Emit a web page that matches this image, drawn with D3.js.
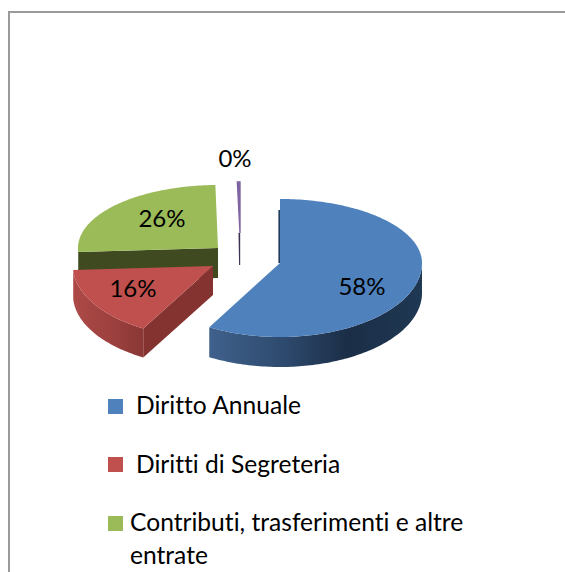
<!DOCTYPE html>
<html><head><meta charset="utf-8">
<script src="https://cdn.jsdelivr.net/npm/d3@7"></script>
<style>html,body{margin:0;padding:0;background:#fff}svg{display:block}text{font-family:Lato,"Open Sans",sans-serif;fill:#000;font-variant-ligatures:none}</style>
</head><body><svg id="c" width="565" height="572"></svg>
<script>
const categories = ["Diritto Annuale","Diritti di Segreteria","Contributi, trasferimenti e altre entrate","Altro"];
const shares = [58.3,15.8,25.6,0.3];
const topColors = ["#4f81bd","#c0504d","#9bbb59","#8064a2"];
const svg = d3.select("#c");
const W=565,H=572;
// frame
svg.append("path").attr("d",`M9,${H}V12H${W}`).attr("fill","none").attr("stroke","#9a9a9a").attr("stroke-width",2);

// layout per slice: exploded centre and perspective radii
const layout = [
 {cx:280,cy:263,rx:142,ryB:64,ryF:74,depth:30},
 {cx:213,cy:266,rx:140,ryB:64,ryF:72,depth:29},
 {cx:218,cy:248,rx:140,ryB:63,ryF:72,depth:30},
 {cx:240,cy:233,rx:140,ryB:51,ryF:60,depth:32}
];
const arcs = d3.pie().sort(null).value(d=>d).startAngle(0).endAngle(2*Math.PI)(shares);
const color = d3.scaleOrdinal().domain(categories).range(topColors);
const line = d3.line();
function pt(l,a,r=1){const c=Math.cos(a);return [l.cx+r*l.rx*Math.sin(a), l.cy-r*(c>0?l.ryB:l.ryF)*c];}
function arcPts(l,a0,a1,dy=0){const n=Math.max(2,Math.ceil(Math.abs(a1-a0)/0.02));
  return d3.range(n+1).map(i=>{const p=pt(l,a0+(a1-a0)*i/n);return [p[0],p[1]+dy];});}

const defs=svg.append("defs");
function grad(id,stops,x1,x2){const g=defs.append("linearGradient").attr("id",id).attr("gradientUnits","userSpaceOnUse").attr("x1",x1).attr("x2",x2).attr("y1",0).attr("y2",0);
  stops.forEach(s=>g.append("stop").attr("offset",s[0]).attr("stop-color",s[1]));return `url(#${id})`;}
const blueWall=grad("bw",[[0,"#3f618c"],[.35,"#2e4a6e"],[.65,"#1b2e47"],[1,"#1f3853"]],209,422);
const redWall=grad("rw",[[0,"#ad4a47"],[.6,"#9c403e"],[1,"#8b3836"]],73,140);

const g=svg.append("g");
// draw back to front: purple, green, red, blue
[3,2,1,0].forEach(i=>{
  const l=layout[i],a=arcs[i],a0=a.startAngle,a1=a.endAngle,gs=g.append("g").attr("class","slice");
  const c=[l.cx,l.cy],e0=pt(l,a0),e1=pt(l,a1);
  if(i===0){
    // outer wall, visible on the front half of the rim
    const from=Math.PI/2-0.02,top=arcPts(l,from,a1),bot=arcPts(l,a1,from,l.depth);
    gs.append("path").attr("d",line(top.concat(bot))+"Z").attr("fill",blueWall);
    // thin dark start wall
    gs.append("path").attr("d",line([[c[0],c[1]],[c[0]-1.6,c[1]],[c[0]-1.6,e0[1]+11],[c[0],e0[1]+11]])+"Z").attr("fill","#1f3b5c");
  }
  if(i===1){
    const top=arcPts(l,a1,a0),bot=arcPts(l,a0,a1,l.depth);
    gs.append("path").attr("d",line(top.concat(bot))+"Z").attr("fill",redWall);
    gs.append("path").attr("d",line([c,e0,[e0[0],e0[1]+l.depth],[c[0],c[1]+l.depth]])+"Z").attr("fill","#853331");
  }
  if(i===2){
    gs.append("path").attr("d",line([c,e0,[e0[0],e0[1]+l.depth],[c[0],c[1]+l.depth]])+"Z").attr("fill","#3f4a20");
  }
  if(i===3){
    gs.append("path").attr("d",line([[c[0]-1.5,c[1]],[c[0]+.2,c[1]],[c[0]+.2,c[1]+l.depth],[c[0]-.9,c[1]+l.depth]])+"Z").attr("fill","#3c3150");
  }
  gs.append("path").attr("d",line([c].concat(arcPts(l,a0,a1)))+"Z").attr("fill",color(categories[i]))
    .attr("stroke",i===3?color(categories[i]):"none").attr("stroke-width",1.4);
});

// value labels
const labelPos=[[362,287],[133,289],[162,219],[235,159]];
const fmt=d=>Math.round(d)+"%";
g.selectAll("text.v").data(shares).join("text").attr("class","v")
 .attr("x",(d,i)=>labelPos[i][0]).attr("y",(d,i)=>labelPos[i][1]+8)
 .attr("text-anchor","middle").attr("font-size",24).text(fmt);

// legend
const legendRows=[
 {sw:399,x:136,lines:[["Diritto Annuale",414]]},
 {sw:457,x:136,lines:[["Diritti di Segreteria",473]]},
 {sw:516,x:130,lines:[["Contributi, trasferimenti e altre",531],["entrate",564]]}
];
const lg=svg.append("g");
legendRows.forEach((r,i)=>{
  lg.append("rect").attr("x",108).attr("y",r.sw).attr("width",15).attr("height",15).attr("fill",topColors[i]);
  r.lines.forEach(t=>lg.append("text").attr("x",r.x).attr("y",t[1]).attr("font-size",24.6).text(t[0]));
});
</script></body></html>
